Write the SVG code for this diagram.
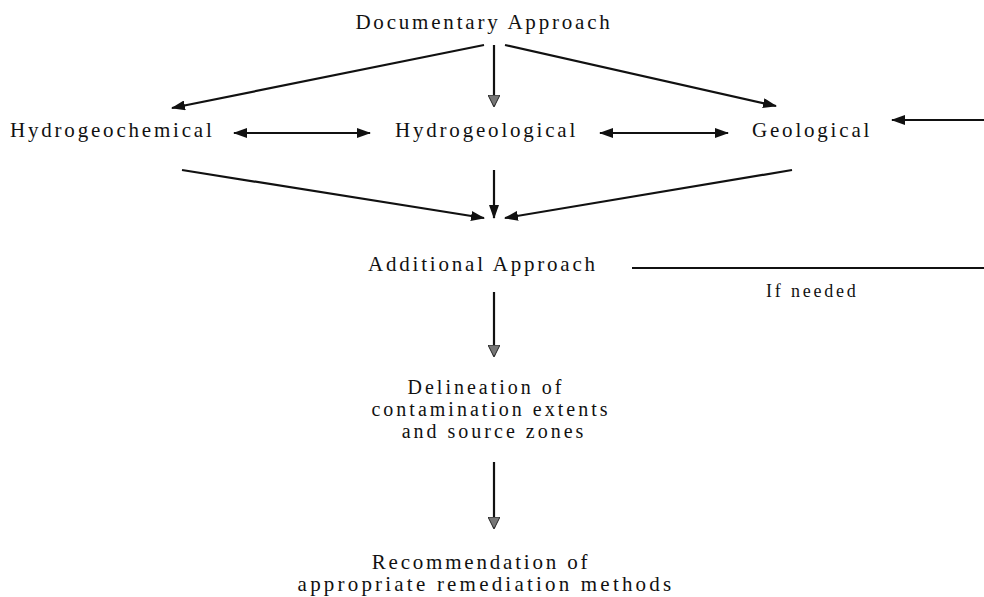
<svg xmlns="http://www.w3.org/2000/svg" width="984" height="597" viewBox="0 0 984 597">
<style>
text{font-family:"Liberation Serif","DejaVu Serif",serif;font-size:21px;fill:#111;letter-spacing:2.8px}
.c{text-anchor:middle}
.m{font-size:20px;letter-spacing:3px}
.w{letter-spacing:3.2px}
.s{font-size:18px;letter-spacing:2.8px}
.ln{stroke:#111;stroke-width:2.2;fill:none}
</style>
<defs>
<marker id="ah" viewBox="0 0 14 10" refX="13" refY="5" markerWidth="14" markerHeight="10" markerUnits="userSpaceOnUse" orient="auto-start-reverse">
<path d="M0,0 L14,5 L0,10 Z" fill="#111"/>
</marker>
<marker id="ag" viewBox="0 0 12 12" refX="11" refY="6" markerWidth="12" markerHeight="12" markerUnits="userSpaceOnUse" orient="auto">
<path d="M0,0 L12,6 L0,12 Z" fill="#777" stroke="#222" stroke-width="1"/>
</marker>
</defs>
<g id="connectors">
<line class="ln" x1="484" y1="45" x2="172" y2="108" marker-end="url(#ah)"/>
<line class="ln" x1="494" y1="45" x2="494" y2="106" marker-end="url(#ag)"/>
<line class="ln" x1="505" y1="45" x2="776" y2="106" marker-end="url(#ah)"/>
<line class="ln" x1="234" y1="133" x2="370" y2="133" marker-start="url(#ah)" marker-end="url(#ah)"/>
<line class="ln" x1="600" y1="133" x2="728" y2="133" marker-start="url(#ah)" marker-end="url(#ah)"/>
<line class="ln" x1="984" y1="120" x2="892" y2="120" marker-end="url(#ah)"/>
<line class="ln" x1="182" y1="170" x2="484" y2="218" marker-end="url(#ah)"/>
<line class="ln" x1="494" y1="170" x2="494" y2="218" marker-end="url(#ah)"/>
<line class="ln" x1="792" y1="170" x2="505" y2="218" marker-end="url(#ah)"/>
<line class="ln" x1="632" y1="268" x2="984" y2="268"/>
<line class="ln" x1="494" y1="292" x2="494" y2="356" marker-end="url(#ag)"/>
<line class="ln" x1="494" y1="462" x2="494" y2="528" marker-end="url(#ag)"/>
</g>
<g id="documentary"><text class="c" x="484" y="29">Documentary Approach</text></g>
<g id="hydrogeochemical"><text x="10" y="137">Hydrogeochemical</text></g>
<g id="hydrogeological"><text x="395" y="137">Hydrogeological</text></g>
<g id="geological"><text x="752" y="137">Geological</text></g>
<g id="additional"><text x="368" y="271">Additional Approach</text></g>
<g id="ifneeded"><text class="s" x="766" y="297">If needed</text></g>
<g id="delineation">
<text class="c m" x="486" y="394">Delineation of</text>
<text class="c m" x="491" y="416">contamination extents</text>
<text class="c m" x="494" y="438">and source zones</text>
</g>
<g id="recommendation">
<text class="c" x="481" y="569">Recommendation of</text>
<text class="c w" x="486" y="591">appropriate remediation methods</text>
</g>
</svg>
